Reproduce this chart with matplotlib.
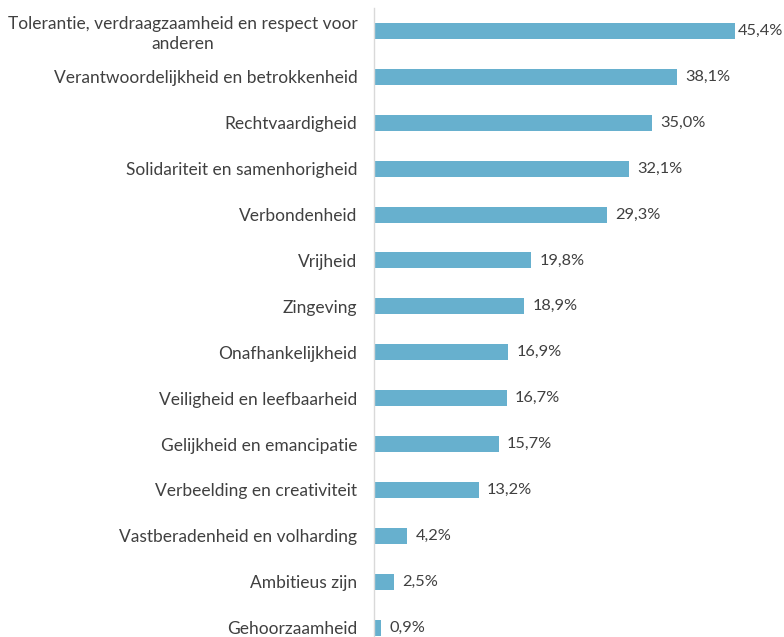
import matplotlib
matplotlib.use("Agg")
import matplotlib.pyplot as plt

categories = [
    "Tolerantie, verdraagzaamheid en respect voor\nanderen",
    "Verantwoordelijkheid en betrokkenheid",
    "Rechtvaardigheid",
    "Solidariteit en samenhorigheid",
    "Verbondenheid",
    "Vrijheid",
    "Zingeving",
    "Onafhankelijkheid",
    "Veiligheid en leefbaarheid",
    "Gelijkheid en emancipatie",
    "Verbeelding en creativiteit",
    "Vastberadenheid en volharding",
    "Ambitieus zijn",
    "Gehoorzaamheid",
]
values = [45.4, 38.1, 35.0, 32.1, 29.3, 19.8, 18.9, 16.9, 16.7, 15.7, 13.2, 4.2, 2.5, 0.9]

plt.rcParams['font.family'] = ['Lato', 'DejaVu Sans']
text_color = "#404040"
bar_color = "#67B0CE"
fs = 12.5

fig = plt.figure(figsize=(7.84, 6.37), dpi=100)
W, H = 784, 637
left = 374 / W
right = 771.5 / W
top_px = 8
height_px = 14 * 45.9
ax = fig.add_axes([left, 1 - (top_px + height_px) / H, right - left, height_px / H])

y = list(range(len(categories)))
ax.barh(y, values, height=0.35, color=bar_color)
ax.set_xlim(0, 50)
ax.set_ylim(13.5, -0.5)

max_label_x = 45.75  # keep the longest label inside the figure
for yi, v in zip(y, values):
    ax.text(min(v + 1.0, max_label_x), yi, f"{v:.1f}%".replace(".", ","),
            va="center", ha="left", fontsize=11.8, color=text_color)

ax.set_yticks(y)
ax.set_yticklabels(categories, fontsize=fs, color=text_color,
                   multialignment="center", linespacing=1.3)
ax.tick_params(axis="y", length=0, pad=12)
ax.set_xticks([])
for s in ["top", "right", "bottom"]:
    ax.spines[s].set_visible(False)
ax.spines["left"].set_color("#D9D9D9")
ax.spines["left"].set_linewidth(1)

fig.savefig("out.png", dpi=100)
